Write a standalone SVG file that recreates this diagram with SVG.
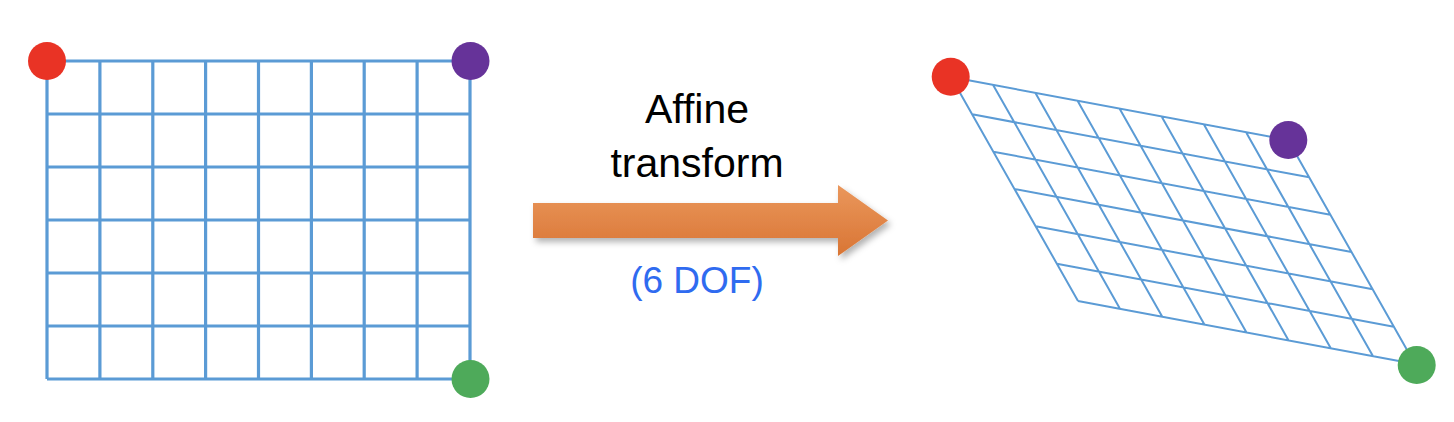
<svg xmlns="http://www.w3.org/2000/svg" width="1454" height="422" viewBox="0 0 1454 422">
<style>
.g1{stroke:#5B9BD5;stroke-width:3.2;fill:none}
.g2{stroke:#5B9BD5;stroke-width:2;fill:none}
.lbl{font-family:"Liberation Sans",Arial,sans-serif;text-anchor:middle}
</style>
<defs>
<linearGradient id="og" x1="0" y1="0" x2="0" y2="1">
<stop offset="0" stop-color="#EA975C"/>
<stop offset="1" stop-color="#D97534"/>
</linearGradient>
<filter id="sh" x="-10%" y="-20%" width="125%" height="150%">
<feDropShadow dx="3" dy="4" stdDeviation="3" flood-color="#000" flood-opacity="0.3"/>
</filter>
</defs>
<rect width="1454" height="422" fill="#fff"/>
<g id="grid-left">
<path class="g1" d="M47,61V379M99.9,61V379M152.8,61V379M205.6,61V379M258.5,61V379M311.4,61V379M364.2,61V379M417.1,61V379M470,61V379
M47,61H470M47,114H470M47,167H470M47,220H470M47,273H470M47,326H470M47,379H470"/>
</g>
<g id="grid-right">
<path class="g2" d="M951,77L1078,301M993.1,84.9L1120.1,308.9M1035.3,92.8L1162.3,316.8M1077.4,100.6L1204.4,324.6M1119.5,108.5L1246.5,332.5M1161.6,116.4L1288.6,340.4M1203.8,124.3L1330.8,348.3M1245.9,132.1L1372.9,356.1M1288,140L1415,364
M951,77L1288,140M972.2,114.3L1309.2,177.3M993.3,151.7L1330.3,214.7M1014.5,189L1351.5,252M1035.7,226.3L1372.7,289.3M1056.8,263.7L1393.8,326.7M1078,301L1415,364"/>
</g>
<g id="dots-left">
<circle cx="47" cy="61" r="19" fill="#E93325"/>
<circle cx="470.5" cy="61" r="19" fill="#663399"/>
<circle cx="470.5" cy="379" r="19" fill="#4EAA5A"/>
</g>
<g id="dots-right">
<circle cx="950.7" cy="76.7" r="19" fill="#E93325"/>
<circle cx="1288.3" cy="140" r="19" fill="#663399"/>
<circle cx="1416.7" cy="365" r="19" fill="#4EAA5A"/>
</g>
<g id="connectors">
<path d="M533,203H838V185L888,220.5L838,256V238H533Z" fill="url(#og)" filter="url(#sh)"/>
</g>
<g id="labels">
<text class="lbl" x="697" y="123" font-size="41" fill="#000">Affine</text>
<text class="lbl" x="697" y="177" font-size="41" fill="#000">transform</text>
<text class="lbl" x="697" y="293" font-size="37" fill="#2F6BF0">(6 DOF)</text>
</g>
</svg>
